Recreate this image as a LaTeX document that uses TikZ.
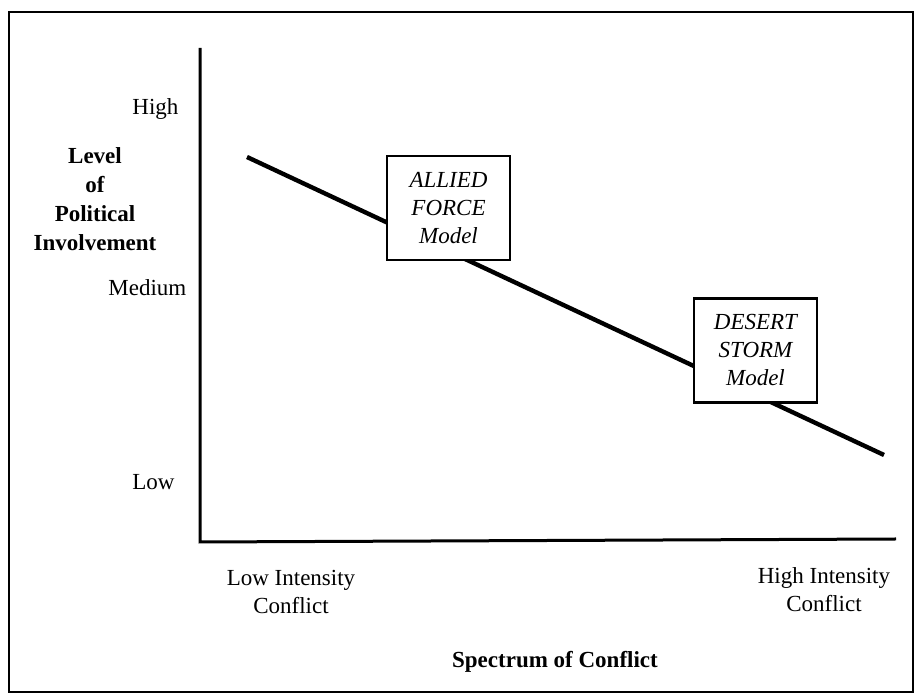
\documentclass[tikz,border=0pt]{standalone}
\usepackage{fontspec}
\setmainfont{Liberation Serif}
\begin{document}
\begin{tikzpicture}[x=0.5pt,y=-0.5pt,
  lbl/.style={font=\fontsize{11.5}{14}\selectfont, inner sep=0pt},
  multi/.style={font=\fontsize{11.5}{14}\selectfont, inner sep=0pt, align=center},
  ttl/.style={font=\fontsize{11.5}{14.5}\selectfont\bfseries, inner sep=0pt, align=center},
  model/.style={draw, line width=1.2pt, fill=white, minimum width=61.5pt, minimum height=52pt,
    align=center, font=\fontsize{11.5}{14}\selectfont\itshape, inner sep=0pt},
  axis/.style={line width=1.5pt},
  trend/.style={line width=2.2pt},
  frame/.style={line width=1pt}]
\useasboundingbox (0,0) rectangle (917,694);
\draw[frame] (9,12) rectangle (913,692);
% axes
\coordinate (ytop) at (200,48);
\coordinate (origin) at (200,542);
\coordinate (xend) at (896,539);
\draw[axis] (ytop) -- (origin) -- (xend);
% trend line
\coordinate (t1) at (247,157);
\coordinate (t2) at (884,455);
\draw[trend] (t1) -- (t2);
% model boxes
\node[model] (allied) at (448.5,208) {ALLIED\\FORCE\\Model};
\node[model] (desert) at (755.5,350.5) {DESERT\\STORM\\Model};
% y labels
\node[lbl, anchor=base west] (high) at (132,115) {High};
\node[lbl, anchor=base west] (medium) at (108,296) {Medium};
\node[lbl, anchor=base west] (low) at (132,490) {Low};
\node[ttl, anchor=north] (ylab) at (95,147) {Level\\of\\Political\\Involvement};
% x labels
\node[multi, anchor=north] (lowint) at (291,570) {Low Intensity\\Conflict};
\node[multi, anchor=north] (highint) at (824,567) {High Intensity\\Conflict};
\node[ttl, anchor=base] (xlab) at (555,668) {Spectrum of Conflict};
\end{tikzpicture}
\end{document}
